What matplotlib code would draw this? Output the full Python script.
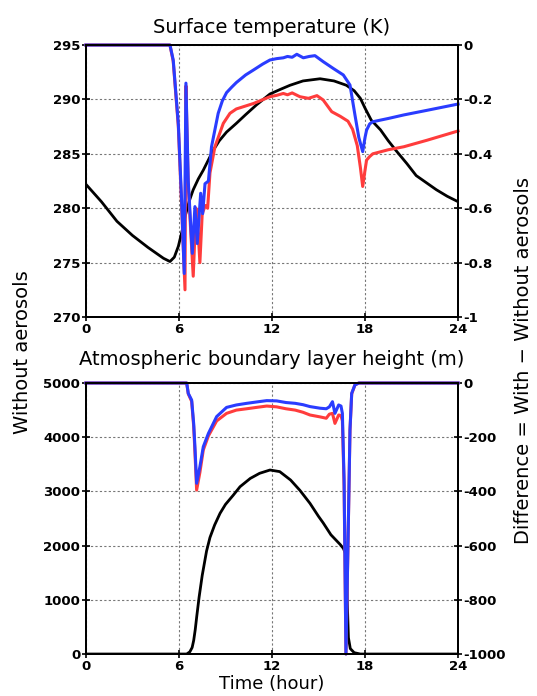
import matplotlib
matplotlib.use("Agg")
import matplotlib.pyplot as plt

plt.rcParams['font.family'] = ['DejaVu Sans']
plt.rcParams['axes.unicode_minus'] = False

# ---- surface temperature (left axis, K) ----
t_temp = [0, 1, 2, 3, 4, 5, 5.42, 5.7, 5.96, 6.2, 6.39, 6.65, 6.92, 7.25, 7.57, 8.2,
          8.6, 9.07, 9.7, 10.3, 11.0, 11.87, 12.5, 13.16, 14.0, 15.1, 16.0, 16.8,
          17.3, 17.7, 18.0, 18.4, 19.0, 19.5, 20.0, 20.7, 21.3, 22.0, 22.6, 23.3, 24]
temp = [282.2, 280.6, 278.8, 277.5, 276.4, 275.4, 275.1, 275.5, 276.5, 277.9, 279.2,
        280.6, 281.7, 282.7, 283.5, 285.3, 286.2, 287.0, 287.8, 288.6, 289.5, 290.5,
        290.9, 291.3, 291.7, 291.9, 291.7, 291.3, 290.8, 290.1, 289.2, 288.1, 287.2,
        286.2, 285.3, 284.1, 283.0, 282.3, 281.7, 281.1, 280.6]

# ---- surface temperature difference (right axis) ----
t_st_blue = [0, 5.42, 5.63, 5.96, 6.17, 6.34, 6.45, 6.6, 6.86, 7.03, 7.18, 7.4, 7.53,
             7.68, 7.9, 8.1, 8.53, 8.8, 9.07, 9.4, 9.7, 10.3, 10.8, 11.4, 11.87, 12.3,
             12.73, 13.0, 13.3, 13.6, 14.02, 14.4, 14.77, 15.3, 15.95, 16.6, 17.03,
             17.35, 17.6, 17.85, 18.0, 18.1, 18.3, 18.5, 19.5, 20.5, 22.0, 24]
d_st_blue = [0, 0, -0.055, -0.29, -0.57, -0.84, -0.14, -0.50, -0.766, -0.594, -0.73,
             -0.545, -0.62, -0.51, -0.50, -0.374, -0.251, -0.205, -0.175, -0.155,
             -0.138, -0.11, -0.092, -0.07, -0.055, -0.05, -0.047, -0.042, -0.045,
             -0.034, -0.047, -0.042, -0.039, -0.061, -0.086, -0.11, -0.147, -0.257,
             -0.34, -0.392, -0.34, -0.313, -0.29, -0.282, -0.27, -0.257, -0.24, -0.217]

t_st_red = [0, 5.42, 5.63, 5.96, 6.17, 6.39, 6.45, 6.6, 6.92, 7.1, 7.2, 7.35, 7.5,
            7.7, 7.85, 8.0, 8.32, 8.86, 9.29, 9.7, 10.8, 11.87, 12.3, 12.73, 13.0,
            13.3, 13.8, 14.35, 14.9, 15.3, 15.85, 16.4, 16.9, 17.2, 17.5, 17.7,
            17.85, 18.0, 18.1, 18.3, 18.5, 19.5, 20.5, 22.0, 24]
d_st_red = [0, 0, -0.06, -0.30, -0.59, -0.90, -0.15, -0.52, -0.85, -0.60, -0.65,
            -0.80, -0.62, -0.59, -0.60, -0.47, -0.374, -0.288, -0.251, -0.235, -0.215,
            -0.19, -0.185, -0.178, -0.183, -0.176, -0.19, -0.196, -0.186, -0.202,
            -0.245, -0.262, -0.28, -0.31, -0.37, -0.45, -0.52, -0.46, -0.423, -0.41,
            -0.40, -0.385, -0.374, -0.35, -0.316]

# ---- boundary layer height (left axis, m) ----
t_abl = [0, 6.5, 6.7, 6.85, 6.95, 7.05, 7.15, 7.3, 7.5, 7.78, 8.0, 8.3, 8.65, 9.0, 9.5,
         9.94, 10.6, 11.2, 11.87, 12.5, 13.2, 13.8, 14.45, 15.0, 15.3, 15.6, 15.8,
         16.1, 16.4, 16.6, 16.8, 16.85, 16.93, 17.05, 17.3, 17.7, 24]
abl = [0, 0, 40, 120, 250, 450, 700, 1050, 1450, 1900, 2150, 2380, 2596, 2760, 2930,
       3087, 3240, 3334, 3395, 3365, 3210, 3020, 2780, 2540, 2420, 2288, 2200, 2110,
       2020, 1950, 1820, 1000, 300, 100, 25, 0, 0]

# ---- boundary layer height difference (right axis, m) ----
t_bl_blue = [0, 6.5, 6.6, 6.82, 6.95, 7.03, 7.14, 7.35, 7.57, 7.9, 8.43, 9.07, 9.7,
             10.37, 11.0, 11.66, 12.3, 12.9, 13.5, 14.0, 14.45, 15.1, 15.5, 15.7,
             15.9, 16.06, 16.3, 16.45, 16.54, 16.65, 16.77, 16.9, 17.03, 17.14,
             17.35, 17.6, 24]
d_bl_blue = [0, 0, -38, -63, -150, -235, -370, -309, -235, -186, -124, -90, -81, -75,
             -70, -65, -66, -72, -75, -80, -87, -93, -95, -88, -69, -112, -81, -85,
             -112, -358, -1000, -600, -173, -38, -7, 0, 0]
t_bl_red = t_bl_blue
d_bl_red = [0, 0, -40, -68, -160, -255, -395, -330, -247, -195, -140, -112, -100, -95,
            -90, -85, -88, -95, -100, -108, -118, -125, -130, -115, -112, -149, -118,
            -120, -140, -380, -1000, -600, -175, -40, -7, 0, 0]

x_ticks = [0, 6, 12, 18, 24]
st_ticks = [270, 275, 280, 285, 290, 295]
st_diff_ticks = [0, -0.2, -0.4, -0.6, -0.8, -1]
st_diff_labels = ['0', '-0.2', '-0.4', '-0.6', '-0.8', '-1']
bl_ticks = [0, 1000, 2000, 3000, 4000, 5000]
bl_diff_ticks = [0, -200, -400, -600, -800, -1000]

BLUE = '#2a3cff'
RED = '#ff3c3c'

fig = plt.figure(figsize=(5.37, 6.96), dpi=100)


def style(ax):
    for s in ax.spines.values():
        s.set_linewidth(1.4)
    ax.tick_params(direction='inout', length=6, width=1.2, pad=1)
    for lab in ax.get_xticklabels() + ax.get_yticklabels():
        lab.set_fontweight('bold')
        lab.set_fontsize(9.5)


def panel(rect, title, pad, t_l, y_l, ylim, yticks, t_b, y_b, t_r, y_r, rlim, rticks, rlabels):
    ax = fig.add_axes(rect)
    ax.plot(t_l, y_l, color='black', lw=2, zorder=3)
    ax.set_xlim(0, 24)
    ax.set_ylim(*ylim)
    ax.set_xticks(x_ticks)
    ax.set_yticks(yticks)
    ax.grid(True, color='#777777', linestyle=(0, (2, 2)), linewidth=0.8)
    ax.set_title(title, fontsize=14, pad=pad)
    axr = ax.twinx()
    axr.plot(t_r, y_r, color=RED, lw=2.2, clip_on=False)
    axr.plot(t_b, y_b, color=BLUE, lw=2.2, clip_on=False)
    axr.set_ylim(*rlim)
    axr.set_yticks(rticks)
    axr.set_yticklabels(rlabels)
    style(ax)
    style(axr)
    return ax


panel([0.160, 0.5445, 0.693, 0.3908], 'Surface temperature (K)', 9,
      t_temp, temp, (270, 295), st_ticks,
      t_st_blue, d_st_blue, t_st_red, d_st_red, (-1, 0), st_diff_ticks, st_diff_labels)

ax2 = panel([0.160, 0.0603, 0.693, 0.3894], 'Atmospheric boundary layer height (m)', 13,
            t_abl, abl, (0, 5000), bl_ticks,
            t_bl_blue, d_bl_blue, t_bl_red, d_bl_red, (-1000, 0), bl_diff_ticks,
            [str(v) for v in bl_diff_ticks])
ax2.set_xlabel('Time (hour)', fontsize=13, labelpad=2)

fig.text(0.041, 0.494, 'Without aerosols', rotation=90, fontsize=14,
         ha='center', va='center')
fig.text(0.975, 0.482, 'Difference = With \u2212 Without aerosols', rotation=90,
         fontsize=14, ha='center', va='center')

fig.savefig('out.png', dpi=100)
